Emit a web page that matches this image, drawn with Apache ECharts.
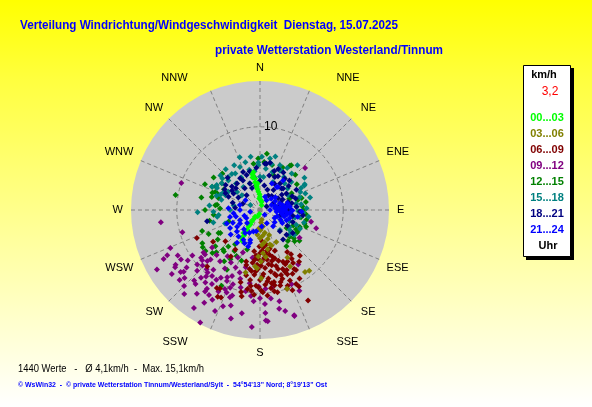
<!DOCTYPE html>
<html><head><meta charset="utf-8">
<script src="https://cdn.jsdelivr.net/npm/echarts@6/dist/echarts.min.js"></script>
<style>
html,body{margin:0;padding:0;width:592px;height:407px;overflow:hidden}
#c{width:592px;height:407px;background:linear-gradient(to bottom,#ffff00 0%,#ffff40 20%,#ffffff 100%)}
</style>
</head><body><div id="c"></div>
<script>
// ---- texts ----
const titleLine1 = 'Verteilung Windrichtung/Windgeschwindigkeit  Dienstag, 15.07.2025';
const titleLine2 = 'private Wetterstation Westerland/Tinnum';
const footerLine1 = '1440 Werte   -   \u00D8 4,1km/h  -  Max. 15,1km/h';
const footerLine2 = '\u00A9 WsWin32  -  \u00A9 private Wetterstation Tinnum/Westerland/Sylt  -  54\u00B054\'13" Nord; 8\u00B019\'13" Ost';
const directionLabels = ['N','NNE','NE','ENE','E','ESE','SE','SSE','S','SSW','SW','WSW','W','WNW','NW','NNW'];
const legendUnit = 'km/h';
const currentSpeed = '3,2';
const legendHours = ['00...03','03...06','06...09','09...12','12...15','15...18','18...21','21...24'];
const legendFooter = 'Uhr';
const radiusLabelValue = 10;
const groupColors = ['#00ff00','#808000','#800000','#800080','#008000','#008080','#000080','#0000ff'];

// ---- data: [direction in degrees, speed in km/h] ----
const h00_03 = [[349,4.2],[350,4.6],[351,3.8],[350,3.4],[352,2.8],[355,2.2],[358,1.9],[0,1.6],[5,1.2],[11,1.0],[20,0.6],[217,1.0],[215,1.4],[215,1.7],[214,2.1],[215,2.4],[213,2.8],[213,3.3],[212,3.6],[213,4.0],[210,4.3],[355,3.2],[347,4.0],[353,2.5],[200,0.8],[190,0.5],[216,3.4],[348,4.4],[352,3.0],[356,1.4]];
const h03_06 = [[175,1.5],[170,2.0],[178,2.4],[168,2.8],[174,3.1],[180,3.4],[165,3.6],[172,3.9],[177,4.2],[183,2.2],[186,3.0],[162,4.5],[169,4.8],[176,5.2],[182,5.6],[179,6.2],[185,6.8],[164,4.3],[153,4.3],[150,6.6],[152,7.7],[144,9.2],[141,9.4],[161,10.0],[179,8.2],[183,7.0],[193,7.7],[171,1.2],[160,3.2],[173,5.7]];
const h06_09 = [[175,4.5],[170,5.0],[180,5.2],[185,5.5],[165,5.8],[172,6.0],[178,6.2],[188,6.4],[160,6.5],[168,6.8],[175,7.0],[182,7.1],[190,7.2],[163,7.4],[170,7.5],[177,7.7],[185,7.8],[158,8.0],[166,8.1],[173,8.3],[180,8.4],[188,8.5],[162,8.7],[169,8.8],[176,9.0],[183,9.1],[157,9.2],[165,9.4],[172,9.5],[179,9.7],[186,9.8],[161,10.0],[168,10.1],[175,10.3],[155,7.2],[153,8.6],[150,9.5],[167,6.3],[173,5.4],[179,6.7],[184,7.4],[171,8.9],[164,9.0],[178,8.0],[186,6.0],[192,8.0],[195,9.0],[194,6.8],[170,4.2],[176,3.8],[181,4.4],[188,5.0],[160,5.2],[166,4.8],[170,9.9],[158,10.4],[163,6.1],[156,6.8],[145,6.5],[148,7.5],[147,6.0],[150,8.2],[152,7.0],[143,7.8],[139,7.3],[147,7.0],[149,8.4],[153,10.3],[152,12.3],[178,9.9],[157,8.4],[246,8.3],[223,9.3],[236,6.8],[209,10.7],[204,11.5],[192,10.6],[212,6.6],[212,5.6],[195,6.4],[188,7.4],[228,5.6],[207,10.6],[206,11.6],[171,6.6],[175,5.8],[182,5.9],[164,7.0],[159,7.6],[167,7.9],[174,8.6],[181,9.3],[187,9.2],[160,9.7],[154,9.9],[184,10.2],[189,9.6],[193,10.1],[168,5.5],[177,4.9],[183,6.6],[156,7.9],[162,8.2],[169,9.2]];
const h09_12 = [[247,11.7],[240,14.3],[236,12.3],[237,12.1],[232,11.2],[232,12.1],[228,12.2],[221,11.8],[223,11.6],[221,10.8],[229,10.0],[231,9.1],[231,8.5],[225,8.4],[218,9.1],[216,9.8],[210,9.4],[214,11.4],[214,11.8],[211,13.0],[208,12.2],[201,12.4],[199,11.1],[197,12.0],[202,10.7],[201,10.0],[200,9.5],[205,9.4],[203,8.6],[211,8.2],[218,7.8],[209,7.2],[203,7.5],[198,7.9],[194,7.1],[188,8.9],[184,11.0],[184,14.1],[208,15.3],[196,8.6],[190,9.9],[205,6.3],[202,5.5],[189,5.8],[215,6.8],[224,7.5],[232,7.3],[233,8.5],[226,8.8],[289,10.0],[263,12.0],[254,9.7],[231,11.8],[177,13.3],[162,13.4],[103,6.3],[108,7.1],[47,7.4],[125,5.8],[145,8.0],[181,9.2],[171,9.4],[176,9.5],[168,11.2],[169,12.1],[177,11.3],[177,12.4],[176,13.4],[162,13.3],[154,10.8],[157,9.7],[226,10.5],[219,10.3],[213,10.6],[207,11.0],[222,9.6],[235,10.6],[238,11.2],[229,12.8],[243,13.0],[220,9.8],[226,9.6],[217,10.9],[212,9.9],[206,9.0],[204,10.4],[198,10.8],[194,9.6],[229,9.2],[236,9.8],[241,11.3],[244,12.4],[234,13.1],[225,12.9],[217,12.6],[211,11.9],[204,13.3],[195,13.5],[190,12.6],[186,10.4],[180,10.6],[173,10.7],[166,12.5],[222,13.6],[214,14.2]];
const h12_15 = [[280,10.3],[296,6.4],[314,6.3],[292,5.8],[277,5.2],[272,4.8],[241,5.7],[250,4.0],[358,6.2],[352,5.6],[7,6.8],[35,6.55],[291,5.5],[276,5.4],[264,5.6],[240,5.5],[240,8.0],[233,8.2],[228,7.7],[223,6.5],[221,5.8],[211,6.9],[207,6.2],[216,5.1],[198,5.0],[209,8.2],[69,3.8],[75,4.7],[101,4.0],[113,5.2],[122,5.2],[132,4.8],[144,5.4],[132,5.6],[102,5.7],[62,4.3],[34,6.4],[21,4.5],[38,4.8],[74,5.2],[107,5.6],[120,5.2],[125,4.8],[124,3.85],[237,8.2],[231,6.9],[221,6.6],[207,10.2],[300,5.0],[285,6.0],[245,6.8],[215,7.5],[295,7.3],[305,6.8],[282,7.2],[270,6.6],[258,6.2],[250,7.4],[235,6.2],[226,7.3],[212,5.8],[200,6.5],[85,5.1],[95,5.5],[115,4.4],[138,5.0],[128,6.0],[28,5.8],[45,6.0],[55,5.4],[15,5.6],[5,5.8],[290,6.1],[298,6.0],[286,5.2],[305,5.6],[80,5.6],[90,5.2],[100,5.0],[110,5.9],[118,4.9],[130,5.3]];
const h15_18 = [[339,6.8],[358,5.7],[14,5.7],[27,5.3],[41,5.8],[43,4.35],[61,6.1],[72,5.0],[94,5.2],[112,4.7],[124,4.3],[108,2.5],[90,3.6],[85,4.4],[296,6.4],[311,6.3],[316,5.5],[326,5.3],[293,4.5],[261,5.2],[268,7.5],[308,3.5],[324,3.4],[339,3.4],[6,4.0],[25,3.7],[343,6.0],[322,5.5],[313,5.2],[291,5.1],[297,5.8],[268,5.6],[263,5.0],[270,3.6],[280,3.2],[249,4.5],[297,1.3],[309,2.8],[11,6.3],[24,5.9],[28,5.4],[40,7.0],[60,6.2],[48,5.05],[358,5.4],[0,4.0],[62,3.8],[80,4.4],[111,3.8],[118,2.9],[135,3.4],[126,5.1],[330,6.2],[350,6.5],[18,4.8],[52,4.2],[100,4.8],[345,5.0],[352,4.7],[2,6.4],[8,5.0],[16,6.7],[33,6.0],[36,4.9],[54,6.6],[66,5.3],[76,6.2],[88,5.6],[98,5.9],[106,5.5],[318,4.3],[300,4.4],[288,5.5],[275,6.1],[255,5.8],[335,5.7],[330,4.5],[300,6.0],[305,5.6],[310,5.9],[320,6.4],[295,4.9],[285,4.8],[62,5.6],[70,5.8],[82,5.0],[92,4.6],[102,4.3],[115,5.3],[120,4.1],[130,4.6]];
const h18_21 = [[319,4.2],[302,3.75],[305,4.1],[318,2.4],[339,3.4],[8,5.6],[29,3.6],[37,4.0],[47,3.8],[58,3.75],[34,2.9],[57,2.6],[74,3.5],[63,0.9],[63,1.8],[258,6.5],[92,4.8],[336,5.0],[293,4.1],[306,5.1],[6,5.6],[339,4.5],[328,4.5],[310,4.4],[296,4.6],[24,5.4],[38,4.8],[61,5.0],[78,3.9],[80,2.2],[88,2.5],[95,2.8],[85,3.0],[100,3.1],[78,3.3],[92,3.4],[105,2.5],[70,2.6],[82,2.0],[137,3.5],[133,4.35],[142,4.5],[24,4.35],[45,3.65],[85,4.4],[97,5.2],[12,5.8],[350,4.0],[45,5.0],[67,4.2],[88,3.6],[100,4.0],[28,4.6],[330,4.1],[312,3.9],[300,4.9],[345,4.8],[355,5.1],[15,4.3],[20,5.0],[32,5.3],[50,4.5],[55,3.2],[65,3.0],[72,4.5],[110,4.2],[120,3.8],[125,4.8],[315,5.5],[325,3.2],[40,2.2],[340,2.8],[350,3.0],[0,3.5],[10,3.0],[20,2.6],[30,2.0],[300,3.0],[285,3.4],[275,3.0],[290,2.2]];
const h21_24 = [[86,2.6],[96,2.0],[90,1.2],[135,0.8],[102,2.8],[119,2.0],[67,1.5],[72,2.5],[83,3.2],[96,3.6],[34,1.4],[24,3.5],[36,3.4],[263,3.2],[243,2.7],[234,3.4],[209,4.1],[219,4.1],[198,3.8],[198,4.6],[197,2.7],[248,4.3],[304,2.1],[284,2.5],[260,1.2],[239,4.2],[174,2.0],[153,1.8],[141,2.5],[273,3.8],[257,3.7],[236,2.9],[213,3.3],[197,4.1],[21,1.7],[111,3.4],[92,5.0],[38,4.5],[38,3.5],[100,4.6],[80,2.0],[85,2.3],[92,2.4],[98,2.6],[88,3.0],[78,2.8],[95,3.2],[105,3.0],[82,1.8],[90,2.1],[110,2.2],[75,1.9],[115,2.7],[225,2.2],[250,2.0],[205,3.0],[230,4.6],[215,4.8],[87,2.9],[93,2.7],[99,3.3],[84,3.6],[91,3.9],[76,3.4],[105,3.7],[120,3.1],[130,2.3],[60,2.1],[50,2.4],[45,1.9],[270,2.4],[255,3.0],[245,3.6],[227,3.8],[220,3.0],[240,1.9],[190,2.6],[205,4.4]];
const groups = [h00_03,h03_06,h06_09,h09_12,h12_15,h15_18,h18_21,h21_24];
// drawing order (last is on top)
const drawOrder = [4,5,3,6,2,1,0,7];

// ---- layout ----
const POLAR_CX = 260, POLAR_CY = 210, POLAR_R = 129;
const RADIUS_MAX = 15.5;

// ---- helpers ----
const measureCtx = document.createElement('canvas').getContext('2d');
function fitText(text, font, x, y, targetWidth, fill) {
  measureCtx.font = font;
  const w = measureCtx.measureText(text).width;
  return {
    type: 'text', x: x, y: y, scaleX: targetWidth / w, scaleY: 1,
    style: { text: text, font: font, fill: fill, align: 'left', verticalAlign: 'middle', textAlign: 'left', textVerticalAlign: 'middle' },
    z: 10
  };
}
function centerText(text, font, x, y, fill) {
  return { type: 'text', x: x, y: y,
    style: { text: text, font: font, fill: fill, align: 'center', verticalAlign: 'middle', textAlign: 'center', textVerticalAlign: 'middle' }, z: 12 };
}

const chart = echarts.init(document.getElementById('c'), null, { renderer: 'canvas' });

const series = drawOrder.map(i => ({
  type: 'scatter',
  coordinateSystem: 'polar',
  name: legendHours[i],
  symbol: 'diamond',
  symbolSize: 6,
  itemStyle: { color: groupColors[i], opacity: 1 },
  data: groups[i].map(p => [p[1], p[0]]),
  silent: true,
  animation: false
}));

const graphics = [
  { type: 'circle', shape: { cx: POLAR_CX, cy: POLAR_CY, r: POLAR_R }, style: { fill: '#cbcbcb' }, z: -10, silent: true },
  fitText(titleLine1, 'bold 13px "Liberation Sans"', 20, 25, 378, '#0000ff'),
  fitText(titleLine2, 'bold 13px "Liberation Sans"', 215, 50, 228, '#0000ff'),
  fitText(footerLine1, '11px "Liberation Sans"', 18, 369, 186, '#000000'),
  fitText(footerLine2, 'bold 8px "Liberation Sans"', 18, 385, 309, '#0000ff'),
  { type: 'rect', shape: { x: 526, y: 68, width: 48, height: 192 }, style: { fill: '#000' }, z: 10 },
  { type: 'rect', shape: { x: 523.5, y: 65.5, width: 47, height: 191 }, style: { fill: '#fff', stroke: '#000', lineWidth: 1 }, z: 11 },
  centerText(legendUnit, 'bold 11px "Liberation Sans"', 544, 75, '#000'),
  centerText(currentSpeed, '12px "Liberation Sans"', 550, 92, '#ff0000'),
  centerText(legendFooter, 'bold 11px "Liberation Sans"', 548, 246, '#000')
];
legendHours.forEach((t, i) => {
  graphics.push(centerText(t, 'bold 11px "Liberation Sans"', 547, 118 + 16 * i, groupColors[i]));
});

function dirLabel(v) {
  if (v >= 360) return '';
  const name = directionLabels[Math.round(v / 22.5)];
  if (name === 'NNE' || name === 'SSE') return '{r|' + name + '}';
  if (name === 'NNW' || name === 'SSW') return '{l|' + name + '}';
  if (name === 'NE' || name === 'SE') return '{s|' + name + '}';
  return name;
}

chart.setOption({
  animation: false,
  backgroundColor: 'transparent',
  polar: { center: [POLAR_CX, POLAR_CY], radius: POLAR_R },
  angleAxis: {
    type: 'value', min: 0, max: 360, interval: 22.5, startAngle: 90, clockwise: true,
    axisLine: { show: false }, axisTick: { show: false },
    axisLabel: {
      margin: 8, fontSize: 11, color: '#000', fontFamily: 'Liberation Sans',
      formatter: dirLabel,
      rich: {
        r: { fontSize: 11, color: '#000', fontFamily: 'Liberation Sans', padding: [0, 0, 0, 24] },
        l: { fontSize: 11, color: '#000', fontFamily: 'Liberation Sans', padding: [0, 20, 0, 0] },
        s: { fontSize: 11, color: '#000', fontFamily: 'Liberation Sans', padding: [0, 0, 0, 4] }
      }
    },
    splitLine: { show: true, lineStyle: { color: '#808080', width: 1, type: [4, 3] } },
    splitArea: { show: false }
  },
  radiusAxis: {
    type: 'value', min: 0, max: RADIUS_MAX, interval: 10,
    axisLine: { show: false }, axisTick: { show: false },
    axisLabel: { margin: -4, align: 'left', formatter: v => v === radiusLabelValue ? String(radiusLabelValue) : '', fontSize: 12, color: '#000', fontFamily: 'Liberation Sans' },
    splitLine: { show: true, lineStyle: { color: ['#808080', '#808080', 'rgba(0,0,0,0)'], width: 1, type: [4, 3] } }
  },
  graphic: graphics,
  series: series
});
</script>
</body></html>
